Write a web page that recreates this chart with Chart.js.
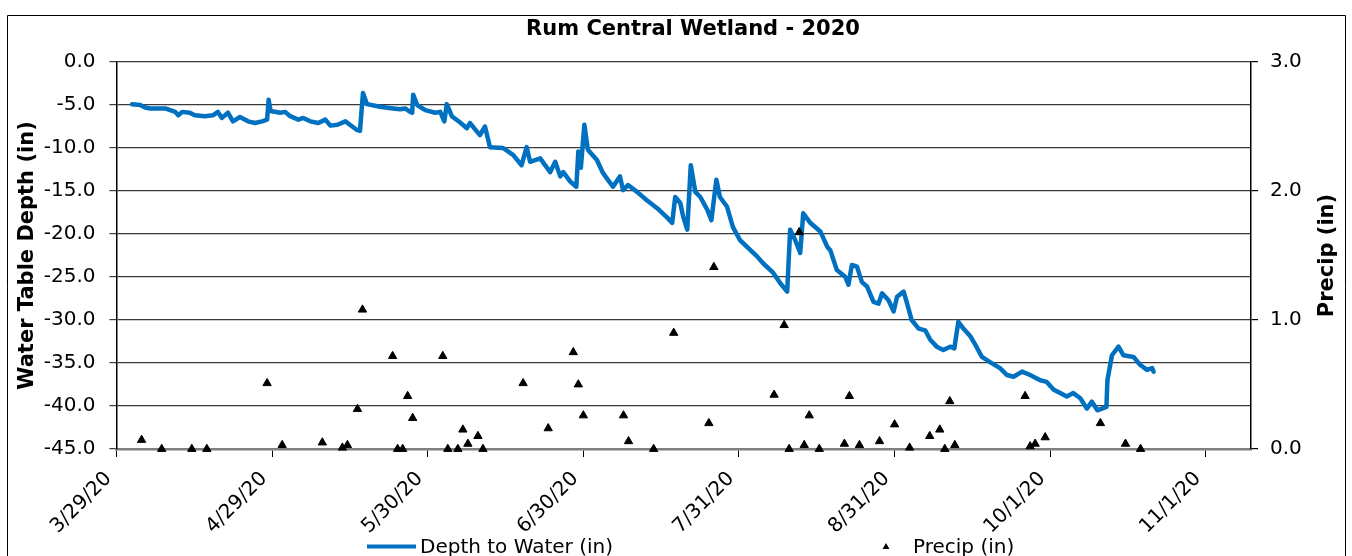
<!DOCTYPE html>
<html>
<head>
<meta charset="utf-8">
<script src="https://cdn.jsdelivr.net/npm/chart.js@4.4.1/dist/chart.umd.min.js"></script>
<style>
html,body{margin:0;padding:0;background:#fff;overflow:hidden}
canvas{display:block}
</style>
</head>
<body>
<canvas id="c" width="1352" height="556"></canvas>
<script>
// ---------------- data ----------------
const chartTitle = 'Rum Central Wetland - 2020';
const leftAxisTitle = 'Water Table Depth (in)';
const rightAxisTitle = 'Precip (in)';
const depthLabel = 'Depth to Water (in)';
const precipLabel = 'Precip (in)';

const startDate = '3/29/2020';        // x axis origin
const axisDays = 226;                 // axis runs 3/29/20 .. 11/10/20
const dateTickDays = [0, 31, 62, 93, 124, 155, 186, 217];
const dateTickLabels = ['3/29/20', '4/29/20', '5/30/20', '6/30/20', '7/31/20', '8/31/20', '10/1/20', '11/1/20'];
const depthTicks = [0, -5, -10, -15, -20, -25, -30, -35, -40, -45];
const precipTicks = [0, 1, 2, 3];

// Depth to water: time in days since 3/29/20, depth in inches
const depthDay = [3.1,4.7,5.7,6.7,9.7,11.7,12.3,13.1,14.6,15.6,
  17.6,19.2,20.2,21.0,22.2,23.2,24.6,26.2,27.6,29.0,
  30.0,30.3,30.7,32.6,33.6,34.6,36.2,37.2,38.6,40.2,
  41.6,42.6,44.0,45.6,46.5,47.9,48.5,49.1,49.9,52.5,
  55.1,56.5,57.5,58.5,58.9,59.1,59.9,61.5,63.5,64.5,
  65.3,65.8,66.8,68.4,69.8,70.4,71.4,72.4,73.4,74.4,
  77.0,79.0,80.7,81.7,82.4,84.4,86.4,87.4,88.4,89.0,
  90.4,91.6,92.0,92.5,93.2,93.9,95.7,96.9,97.9,98.9,
  100.3,100.9,101.9,103.7,105.7,107.7,109.7,110.7,111.3,112.3,
  112.9,113.7,114.4,115.3,116.3,117.7,118.5,119.5,120.2,121.6,
  122.8,124.2,125.6,127.6,128.8,130.8,132.2,133.6,134.2,135.2,
  136.2,136.8,138.2,140.2,141.6,142.2,143.5,145.2,145.8,146.5,
  147.5,148.5,149.5,150.8,151.8,152.5,153.8,154.8,155.5,156.8,
  157.4,158.4,159.8,161.1,162.1,163.4,164.7,166.1,166.9,167.7,
  168.7,170.1,171.1,172.4,174.0,176.0,177.4,178.7,180.4,182.0,
  184.0,185.3,186.7,188.0,189.3,190.6,192.0,193.3,194.3,195.4,
  197.2,197.4,198.3,199.6,200.6,202.6,203.9,205.3,206.3,206.6];
const depthIn = [-4.9,-5.0,-5.3,-5.4,-5.4,-5.8,-6.2,-5.8,-5.9,-6.2,
  -6.3,-6.2,-5.8,-6.5,-5.9,-6.9,-6.4,-6.9,-7.1,-6.9,
  -6.7,-4.4,-5.7,-5.9,-5.8,-6.3,-6.7,-6.5,-6.9,-7.1,
  -6.7,-7.4,-7.3,-6.9,-7.3,-7.9,-8.0,-3.6,-4.9,-5.2,
  -5.4,-5.5,-5.4,-5.8,-5.9,-3.8,-5.0,-5.6,-5.9,-5.8,
  -6.9,-4.9,-6.3,-7.0,-7.7,-7.1,-7.8,-8.5,-7.5,-9.9,
  -10.0,-10.8,-12.0,-9.9,-11.6,-11.2,-12.8,-11.6,-13.3,-12.8,
  -13.9,-14.5,-10.4,-12.3,-7.3,-10.2,-11.4,-12.9,-13.7,-14.5,
  -13.3,-14.9,-14.3,-15.1,-16.1,-17.0,-18.1,-18.7,-15.7,-16.4,
  -18.0,-19.5,-12.0,-15.1,-15.7,-17.2,-18.4,-13.7,-15.7,-16.8,
  -19.2,-20.7,-21.5,-22.6,-23.4,-24.5,-25.7,-26.7,-19.5,-20.7,
  -22.2,-17.6,-18.7,-19.7,-21.5,-21.9,-24.2,-25.0,-25.9,-23.6,
  -23.8,-25.6,-26.1,-27.9,-28.1,-26.9,-27.7,-29.0,-27.3,-26.7,
  -27.9,-30.0,-31.0,-31.2,-32.3,-33.1,-33.5,-33.1,-33.3,-30.2,
  -31.0,-31.9,-32.9,-34.3,-34.9,-35.6,-36.4,-36.6,-36.0,-36.4,
  -37.0,-37.2,-38.1,-38.5,-38.9,-38.5,-39.1,-40.3,-39.5,-40.5,
  -40.1,-37.0,-34.1,-33.1,-34.1,-34.3,-35.2,-35.8,-35.6,-36.0];

// Daily precipitation (2020)
const precipDate = ['4/3','4/7','4/13','4/16','4/28','5/1','5/9','5/13','5/14','5/16',
  '5/17','5/23','5/24','5/25','5/26','5/27','6/2','6/3','6/5','6/6',
  '6/7','6/9','6/10','6/18','6/23','6/28','6/29','6/30','7/8','7/9',
  '7/14','7/18','7/25','7/26','8/7','8/9','8/10','8/12','8/13','8/14',
  '8/16','8/21','8/22','8/24','8/28','8/31','9/3','9/7','9/9','9/10',
  '9/11','9/12','9/26','9/27','9/28','9/30','10/11','10/16','10/19'];
const precipIn = [0.07,0,0,0,0.51,0.03,0.05,0.01,0.03,0.31,
  1.08,0.72,0,0,0.41,0.24,0.72,0,0,0.15,
  0.04,0.10,0,0.51,0.16,0.75,0.50,0.26,0.26,0.06,
  0,0.90,0.20,1.41,0.42,0.96,0,1.68,0.03,0.26,
  0,0.04,0.41,0.03,0.06,0.19,0.01,0.10,0.15,0,
  0.37,0.03,0.41,0.02,0.04,0.09,0.20,0.04,0];

// ---------------- helpers ----------------
function dayOf(md) {
  const [m, d] = md.split('/').map(Number);
  const [sm, sd, sy] = startDate.split('/').map(Number);
  return (Date.UTC(sy, m - 1, d) - Date.UTC(sy, sm - 1, sd)) / 86400000;
}
const depthPoints = depthDay.map((d, i) => ({x: d, y: depthIn[i]}));
const precipPoints = precipDate.map((d, i) => ({x: dayOf(d), y: precipIn[i]}));

const FONT = "'DejaVu Sans', sans-serif";
const BLUE = '#0070C0';
Chart.defaults.font.family = FONT;
Chart.defaults.color = '#000';

const decor = {
  id: 'decor',
  beforeDraw(chart) {
    const ctx = chart.ctx;
    ctx.save();
    ctx.fillStyle = '#fff';
    ctx.fillRect(0, 0, chart.width, chart.height);
    ctx.strokeStyle = '#000';
    ctx.lineWidth = 1;
    ctx.beginPath();
    ctx.moveTo(7.5, 600); ctx.lineTo(7.5, 15.5); ctx.lineTo(1345.5, 15.5); ctx.lineTo(1345.5, 600);
    ctx.stroke();
    ctx.restore();
  },
  afterDraw(chart) {
    const ctx = chart.ctx;
    const a = chart.chartArea;
    ctx.save();
    ctx.fillStyle = '#000';
    ctx.textAlign = 'center';
    ctx.textBaseline = 'middle';
    ctx.font = 'bold 21px ' + FONT;
    // chart title
    ctx.fillText(chartTitle, 693, 30);
    // right axis title, reading bottom-to-top
    ctx.translate(1328, (a.top + a.bottom) / 2);
    ctx.rotate(-Math.PI / 2);
    ctx.fillText(rightAxisTitle, 0, 0);
    ctx.restore();

    // legend
    ctx.save();
    ctx.strokeStyle = BLUE;
    ctx.lineWidth = 4;
    ctx.beginPath();
    ctx.moveTo(367, 546.5); ctx.lineTo(416, 546.5);
    ctx.stroke();
    ctx.font = '20px ' + FONT;
    ctx.fillStyle = '#000';
    ctx.textAlign = 'left';
    ctx.textBaseline = 'middle';
    ctx.fillText(depthLabel, 420, 548);
    const tx = 886, ty = 547, r = 4;
    ctx.beginPath();
    ctx.moveTo(tx, ty - r);
    ctx.lineTo(tx + r * 0.87, ty + r * 0.5);
    ctx.lineTo(tx - r * 0.87, ty + r * 0.5);
    ctx.closePath();
    ctx.fill();
    ctx.fillText(precipLabel, 913, 548);
    ctx.restore();
  }
};

new Chart(document.getElementById('c'), {
  type: 'line',
  data: {
    datasets: [
      {
        label: precipLabel,
        data: precipPoints,
        yAxisID: 'y1',
        showLine: false,
        pointStyle: 'triangle',
        pointRadius: 4.8,
        pointBorderWidth: 1,
        pointBackgroundColor: '#000',
        pointBorderColor: '#000',
        clip: false,
        order: 0
      },
      {
        label: depthLabel,
        data: depthPoints,
        yAxisID: 'y',
        borderColor: BLUE,
        borderWidth: 4.5,
        pointRadius: 0,
        tension: 0,
        fill: false,
        borderJoinStyle: 'round',
        borderCapStyle: 'round',
        order: 1
      }
    ]
  },
  options: {
    responsive: false,
    animation: false,
    devicePixelRatio: 1,
    layout: {padding: {top: 62, left: 0, right: 0, bottom: 0}},
    plugins: {
      legend: {display: false},
      tooltip: {enabled: false},
      title: {display: false}
    },
    scales: {
      x: {
        type: 'linear',
        position: 'bottom',
        min: 0,
        max: axisDays,
        afterBuildTicks(s) { s.ticks = dateTickDays.map(v => ({value: v})); },
        afterFit(s) { s.height = 107; },
        grid: {drawOnChartArea: false, drawTicks: true, tickLength: 8, color: '#000', lineWidth: 1},
        border: {display: true, color: '#7f7f7f', width: 2.5},
        ticks: {
          autoSkip: false,
          minRotation: 45,
          maxRotation: 45,
          padding: 10,
          labelOffset: -8,
          font: {family: FONT, size: 20},
          color: '#000',
          callback(v) { return dateTickLabels[dateTickDays.indexOf(v)]; }
        }
      },
      y: {
        position: 'left',
        min: -45,
        max: 0,
        afterBuildTicks(s) { s.ticks = depthTicks.map(v => ({value: v})); },
        afterFit(s) { s.width = 116.5; },
        grid: {color: '#3a3a3a', lineWidth: 1.2, tickLength: 7},
        border: {display: true, color: '#000', width: 1.5},
        ticks: {
          padding: 14,
          font: {family: FONT, size: 20},
          color: '#000',
          callback(v) { return Number(v).toFixed(1); }
        },
        title: {
          display: true,
          text: leftAxisTitle,
          color: '#000',
          font: {family: FONT, size: 21, weight: 'bold'},
          padding: {top: 15, bottom: 0}
        }
      },
      y1: {
        position: 'right',
        min: 0,
        max: 3,
        afterBuildTicks(s) { s.ticks = precipTicks.map(v => ({value: v})); },
        afterFit(s) { s.width = 101; },
        grid: {drawOnChartArea: false, color: '#000', lineWidth: 1.2, tickLength: 7},
        border: {display: true, color: '#000', width: 1.5},
        ticks: {
          padding: 12,
          font: {family: FONT, size: 20},
          color: '#000',
          callback(v) { return Number(v).toFixed(1); }
        }
      }
    }
  },
  plugins: [decor]
});
</script>
</body>
</html>
